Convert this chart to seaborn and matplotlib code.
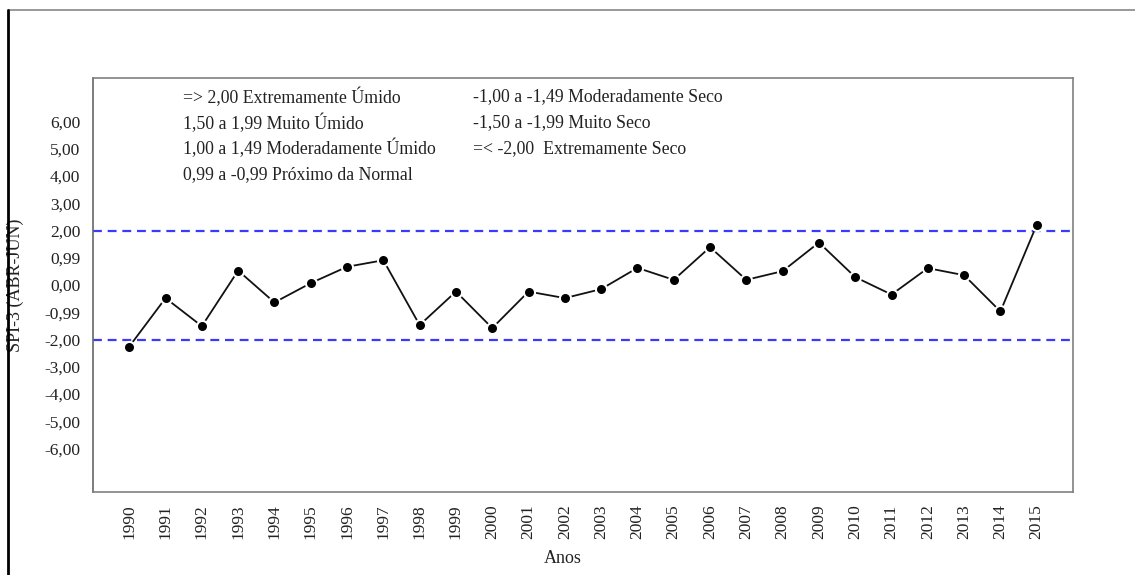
import matplotlib
matplotlib.use("Agg")
import matplotlib.pyplot as plt
from matplotlib.lines import Line2D
import seaborn as sns
import pandas as pd

# SPI-3 values
anos = list(range(1990, 2016))
spi3 = [-2.26, -0.48, -1.51, 0.53, -0.64, 0.07, 0.67, 0.91, -1.47, -0.24,
        -1.58, -0.24, -0.48, -0.15, 0.63, 0.19, 1.39, 0.19, 0.51, 1.56,
        0.29, -0.35, 0.62, 0.36, -0.97, 2.21]

ytick_vals = [6, 5, 4, 3, 2, 1, 0, -1, -2, -3, -4, -5, -6]
ytick_labels = ["6,00", "5,00", "4,00", "3,00", "2,00", "0,99", "0,00",
                "-0,99", "-2,00", "-3,00", "-4,00", "-5,00", "-6,00"]
minor_ticks = [1.5, -1.5]
limites = [2, -2]

legenda_esq = ["=> 2,00 Extremamente Úmido", "1,50 a 1,99 Muito Úmido",
               "1,00 a 1,49 Moderadamente Úmido", "0,99 a -0,99 Próximo da Normal"]
legenda_dir = ["-1,00 a -1,49 Moderadamente Seco", "-1,50 a -1,99 Muito Seco",
               "=< -2,00  Extremamente Seco"]

df = pd.DataFrame({"Anos": anos, "SPI": spi3})

sns.set_style("white")
plt.rcParams['font.family'] = ['Liberation Serif', 'DejaVu Serif']

fig = plt.figure(figsize=(11.35, 5.75), dpi=100)
ax = fig.add_axes([0.0819, 0.1443, 0.8635, 0.72])

# threshold lines
for v in limites:
    ax.axhline(v, color="#3a3aff", lw=1.6, dashes=(4, 2.6), zorder=1)

sns.lineplot(data=df, x="Anos", y="SPI", ax=ax, color="#111111", lw=1.3,
             marker="o", markersize=8, markerfacecolor="black",
             markeredgecolor="white", markeredgewidth=1.5, zorder=3)

ax.set_xlim(1989, 2016)
ax.set_ylim(-7.6, 7.6)
ax.set_xticks(anos)
ax.set_xticklabels([str(a) for a in anos], rotation=90, fontsize=12.5)
ax.set_yticks(ytick_vals)
ax.set_yticklabels(ytick_labels, fontsize=12.5)
ax.set_yticks(minor_ticks, minor=True)
ax.tick_params(axis="both", which="both", direction="out", length=6,
               width=1, color="#555555", labelcolor="#222222", pad=3)
ax.tick_params(axis="y", which="minor", length=6)

for s in ax.spines.values():
    s.set_color("#808080")
    s.set_linewidth(1.2)
ax.spines["left"].set_color("#666666")

ax.set_xlabel("Anos", fontsize=13, color="#222222")
ax.set_ylabel("SPI-3 (ABR-JUN)", fontsize=13, color="#222222")
ax.xaxis.set_label_coords(0.479, -0.141)
ax.yaxis.set_label_coords(-0.0705, 0.5)

ys = [0.954, 0.891, 0.829, 0.766]
for t, y in zip(legenda_esq, ys):
    ax.text(0.0918, y, t, transform=ax.transAxes, fontsize=12.8,
            va="center", ha="left", color="#222222")
ys2 = [0.954, 0.893, 0.829]
for t, y in zip(legenda_dir, ys2):
    ax.text(0.3878, y, t, transform=ax.transAxes, fontsize=12.8,
            va="center", ha="left", color="#222222")

# outer frame of the original figure
fig.add_artist(Line2D([8 / 1135, 1], [1 - 10 / 575, 1 - 10 / 575],
                      transform=fig.transFigure, color="#888888", lw=1.2))
fig.add_artist(Line2D([8 / 1135, 8 / 1135], [0, 1 - 10 / 575],
                      transform=fig.transFigure, color="black", lw=2))

fig.savefig("out.png", dpi=100)
